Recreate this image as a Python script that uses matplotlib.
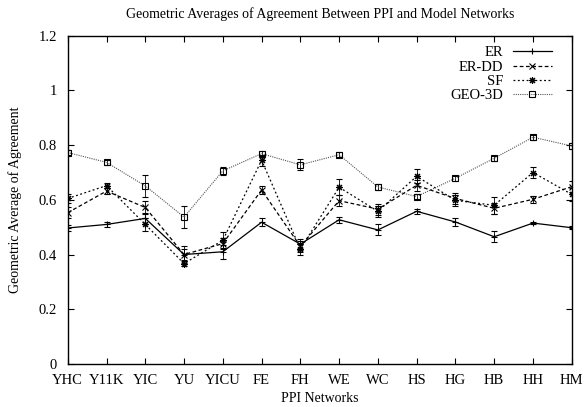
import numpy as np
import matplotlib
matplotlib.use("Agg")
import matplotlib.pyplot as plt

plt.rcParams['font.family'] = ['Liberation Serif', 'DejaVu Serif']

networks = ["YHC", "Y11K", "YIC", "YU", "YICU", "FE", "FH", "WE", "WC", "HS", "HG", "HB", "HH", "HM"]

# средние значения
er = [0.497, 0.51, 0.532, 0.40, 0.41, 0.518, 0.438, 0.527, 0.49, 0.558, 0.519, 0.465, 0.515, 0.498]
er_dd = [0.553, 0.632, 0.572, 0.40, 0.44, 0.636, 0.43, 0.597, 0.566, 0.653, 0.605, 0.569, 0.602, 0.648]
sf = [0.605, 0.652, 0.51, 0.367, 0.452, 0.745, 0.42, 0.646, 0.558, 0.686, 0.598, 0.58, 0.70, 0.62]
geo = [0.773, 0.737, 0.651, 0.537, 0.706, 0.769, 0.728, 0.765, 0.647, 0.612, 0.679, 0.752, 0.829, 0.797]

# погрешности
er_err = [0.01, 0.01, 0.02, 0.03, 0.025, 0.015, 0.02, 0.01, 0.02, 0.01, 0.015, 0.02, 0.005, 0.006]
er_dd_err = [0.02, 0.01, 0.025, 0.02, 0.02, 0.015, 0.02, 0.02, 0.02, 0.02, 0.02, 0.02, 0.012, 0.02]
sf_err = [0.015, 0.01, 0.025, 0.01, 0.03, 0.02, 0.02, 0.03, 0.02, 0.025, 0.02, 0.03, 0.02, 0.025]
geo_err = [0.01, 0.01, 0.04, 0.04, 0.015, 0.01, 0.02, 0.01, 0.01, 0.01, 0.01, 0.01, 0.01, 0.01]

x = np.arange(len(networks))

fig = plt.figure(figsize=(5.84, 4.07), dpi=100)
ax = fig.add_axes([0.116, 0.106, 0.863, 0.806])

series = [
    ("ER", er, er_err, '-', '+', 'black', 0.9),
    ("ER-DD", er_dd, er_dd_err, (0, (3, 2)), 'x', 'black', 0.9),
    ("SF", sf, sf_err, (0, (1.5, 2)), (8, 2, 0), 'black', 0.9),
    ("GEO-3D", geo, geo_err, (0, (1, 1)), 's', '#555555', 0.8),
]

lines = []
for name, vals, err, ls, mk, col, lw in series:
    c = ax.errorbar(x, vals, yerr=err, color=col, ls=ls, lw=lw, marker=mk,
                    markersize=5, mfc='none', mec='black', mew=0.8,
                    ecolor='black', elinewidth=0.6, capsize=2.5, capthick=0.6,
                    label=name)
    lines.append(c[0])

ax.set_xlim(0, 13)
ax.set_ylim(0, 1.2)
ax.set_xticks(x)
ax.set_xticklabels(networks)
ax.set_yticks([0, 0.2, 0.4, 0.6, 0.8, 1.0, 1.2])
ax.set_yticklabels(["0", "0.2", "0.4", "0.6", "0.8", "1", "1.2"])
ax.tick_params(direction='in', top=True, right=True, labelsize=10.5, length=4)
ax.tick_params(axis='x', pad=7)
ax.tick_params(axis='y', pad=8)
for s in ax.spines.values():
    s.set_linewidth(1.0)

ax.set_xlabel("PPI Networks", fontsize=10, labelpad=4)
ax.set_ylabel("Geometric Average of Agreement", fontsize=10, labelpad=12)
ax.set_title("Geometric Averages of Agreement Between PPI and Model Networks", fontsize=10, pad=13)

ax.legend(lines, [s[0] for s in series], loc='upper right', frameon=False, markerfirst=False,
          fontsize=10.5, handlelength=2.7, handletextpad=0.65, labelspacing=0.08,
          borderaxespad=0.3, bbox_to_anchor=(0.981, 1.0))

plt.savefig("out.png", dpi=100)
